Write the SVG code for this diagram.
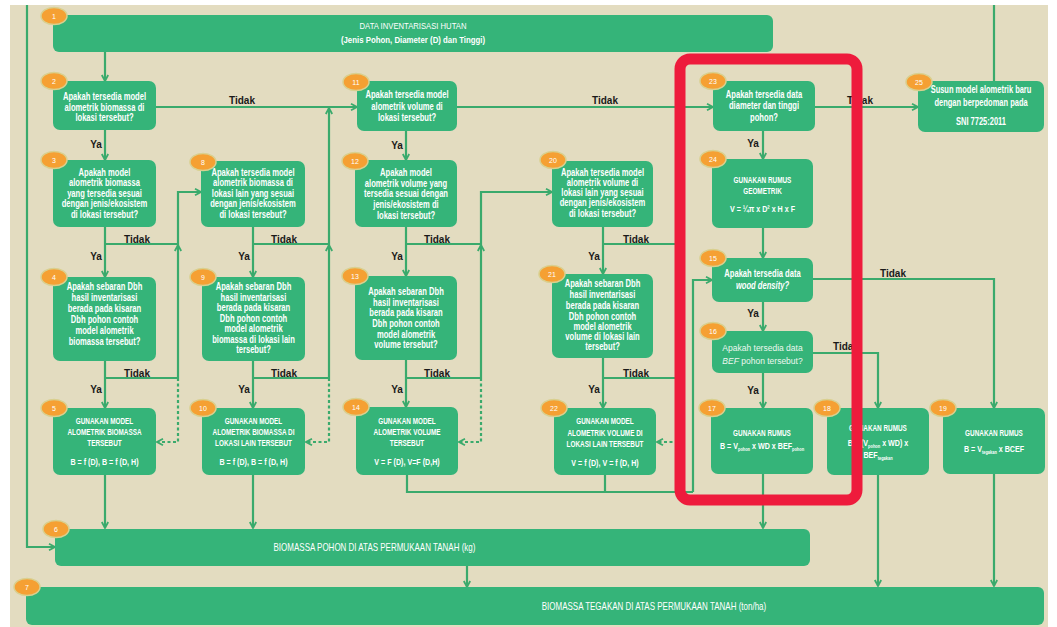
<svg xmlns="http://www.w3.org/2000/svg" width="1057" height="627" viewBox="0 0 1057 627">
<style>
.n{fill:#35b479}
.be{fill:#f5a033;stroke:#d9d08f;stroke-width:1.5}
.bt{font-family:"Liberation Sans",Arial,sans-serif;font-size:7px;fill:#fff;text-anchor:middle}
.t{font-family:"Liberation Sans",Arial,sans-serif;font-weight:700;font-size:10px;fill:#fff;text-anchor:middle}
.cap{font-size:8.4px}
.f{font-size:9.4px}
.r{font-weight:400}
.t2{font-family:"Liberation Sans",Arial,sans-serif;font-weight:400;font-size:8.5px;fill:#eef7f0;text-anchor:middle}
.lbl{font-family:"Liberation Sans",Arial,sans-serif;font-weight:700;font-size:10px;fill:#1a1a1a;text-anchor:middle}
.cn path{fill:none;stroke:#3aaa6c;stroke-width:2.2}
.cn path.a{marker-end:url(#ar)}
.cn path.d{stroke-dasharray:3 2.5}
</style>
<defs>
<marker id="ar" viewBox="0 0 10 10" refX="9" refY="5" markerWidth="8" markerHeight="8" orient="auto" markerUnits="userSpaceOnUse">
<path d="M1.5,1 L9,5 L1.5,9" fill="none" stroke="#3aaa6c" stroke-width="2.2"/>
</marker>
</defs>
<rect x="0" y="0" width="1057" height="627" fill="#ffffff"/>
<rect x="10" y="5" width="1038" height="622" fill="#e3dcc0"/>

<g id="connectors" class="cn">
<path class="a" d="M27,5 V547 H55"/>
<path d="M994,5 V81"/>
<path class="a" d="M105,52 V81"/>
<path class="a" d="M156,107 H357"/>
<path class="a" d="M105,130 V160"/>
<path class="a" d="M105,227 V277"/>
<path d="M105,244 H178"/>
<path class="a" d="M105,361 V408"/>
<path d="M105,378 H178"/>
<path class="a" d="M178,378 V245"/>
<path class="a" d="M178,245 V192 H201"/>
<path class="a d" d="M178,378 V442 H157"/>
<path class="a" d="M105,475 V528"/>
<path class="a" d="M253,227 V277"/>
<path d="M253,244 H329"/>
<path class="a" d="M253,361 V408"/>
<path d="M253,378 H329"/>
<path class="a" d="M329,378 V245"/>
<path class="a" d="M329,245 V108"/>
<path class="a d" d="M329,378 V442 H306"/>
<path class="a" d="M253,475 V528"/>
<path class="a" d="M406,131 V160"/>
<path class="a" d="M406,227 V276"/>
<path d="M406,244 H481"/>
<path class="a" d="M406,360 V407"/>
<path d="M406,378 H481"/>
<path class="a" d="M481,378 V245"/>
<path class="a" d="M481,245 V192 H552"/>
<path class="a d" d="M481,378 V442 H459"/>
<path d="M407,475 V492 H693"/>
<path d="M605,475 V492"/>
<path class="a" d="M693,492 V280 H712"/>
<path class="a" d="M457,107 H713"/>
<path class="a" d="M603,227 V274"/>
<path d="M603,244 H680"/>
<path class="a" d="M603,358 V408"/>
<path d="M603,378 H680"/>
<path d="M680,378 V107"/>
<path class="a d" d="M680,378 V442 H657"/>
<path class="a" d="M815,107 H918"/>
<path class="a" d="M763,131 V159"/>
<path class="a" d="M763,228 V258"/>
<path class="a" d="M763,302 V331"/>
<path class="a" d="M813,279 H994 V408"/>
<path class="a" d="M813,353 H878 V408"/>
<path class="a" d="M763,373 V408"/>
<path class="a" d="M763,474 V528"/>
<path class="a" d="M878,475 V586"/>
<path class="a" d="M994,474 V586"/>
<path class="a" d="M467,566 V587"/>
</g>

<g id="labels">
<text class="lbl" x="242" y="104">Tidak</text>
<text class="lbl" x="605" y="104">Tidak</text>
<text class="lbl" x="860" y="104">Tidak</text>
<text class="lbl" x="96" y="148">Ya</text>
<text class="lbl" x="397" y="149">Ya</text>
<text class="lbl" x="753" y="147">Ya</text>
<text class="lbl" x="137" y="243">Tidak</text>
<text class="lbl" x="284" y="243">Tidak</text>
<text class="lbl" x="437" y="243">Tidak</text>
<text class="lbl" x="636" y="243">Tidak</text>
<text class="lbl" x="96" y="260">Ya</text>
<text class="lbl" x="244" y="260">Ya</text>
<text class="lbl" x="397" y="260">Ya</text>
<text class="lbl" x="594" y="260">Ya</text>
<text class="lbl" x="137" y="377">Tidak</text>
<text class="lbl" x="284" y="377">Tidak</text>
<text class="lbl" x="437" y="377">Tidak</text>
<text class="lbl" x="636" y="377">Tidak</text>
<text class="lbl" x="96" y="393">Ya</text>
<text class="lbl" x="244" y="393">Ya</text>
<text class="lbl" x="397" y="393">Ya</text>
<text class="lbl" x="594" y="393">Ya</text>
<text class="lbl" x="893" y="277">Tidak</text>
<text class="lbl" x="753" y="317">Ya</text>
<text class="lbl" x="846" y="350">Tidak</text>
<text class="lbl" x="753" y="394">Ya</text>
</g>

<g id="n1"><rect class="n" x="53" y="15" width="720" height="37" rx="6"/>
<g transform="translate(413 0) scale(.8 1)"><text class="t"><tspan x="0" y="29.5" class="r" font-size="9.6">DATA INVENTARISASI HUTAN</tspan><tspan x="0" y="43.5" font-size="9.8">(Jenis Pohon, Diameter (D) dan Tinggi)</tspan></text></g>
<ellipse class="be" cx="54" cy="16" rx="13" ry="8.5"/><text class="bt" x="54" y="18.5">1</text></g>

<g id="n2"><rect class="n" x="53" y="81" width="103" height="49" rx="7"/>
<g transform="translate(104.5 0) scale(.76 1)"><text class="t"><tspan x="0" y="100">Apakah tersedia model</tspan><tspan x="0" y="111">alometrik biomassa di</tspan><tspan x="0" y="121.5">lokasi tersebut?</tspan></text></g>
<ellipse class="be" cx="54" cy="81" rx="13" ry="8.5"/><text class="bt" x="54" y="83.5">2</text></g>

<g id="n3"><rect class="n" x="53" y="160" width="103" height="67" rx="7"/>
<g transform="translate(104.5 0) scale(.76 1)"><text class="t"><tspan x="0" y="176">Apakah model</tspan><tspan x="0" y="186.5">alometrik biomassa</tspan><tspan x="0" y="197">yang tersedia sesuai</tspan><tspan x="0" y="207.5">dengan jenis/ekosistem</tspan><tspan x="0" y="218">di lokasi tersebut?</tspan></text></g>
<ellipse class="be" cx="54" cy="160" rx="13" ry="8.5"/><text class="bt" x="54" y="162.5">3</text></g>

<g id="n4"><rect class="n" x="53" y="277" width="103" height="84" rx="7"/>
<g transform="translate(104.5 0) scale(.76 1)"><text class="t"><tspan x="0" y="290">Apakah sebaran Dbh</tspan><tspan x="0" y="301">hasil inventarisasi</tspan><tspan x="0" y="312">berada pada kisaran</tspan><tspan x="0" y="323">Dbh pohon contoh</tspan><tspan x="0" y="334">model alometrik</tspan><tspan x="0" y="345">biomassa tersebut?</tspan></text></g>
<ellipse class="be" cx="54" cy="277" rx="13" ry="8.5"/><text class="bt" x="54" y="279.5">4</text></g>

<g id="n5"><rect class="n" x="53" y="408" width="103" height="67" rx="7"/>
<g transform="translate(104.5 0) scale(.76 1)"><text class="t"><tspan x="0" y="424.5" class="cap">GUNAKAN MODEL</tspan><tspan x="0" y="435.5" class="cap">ALOMETRIK BIOMASSA</tspan><tspan x="0" y="446" class="cap">TERSEBUT</tspan><tspan x="0" y="465.5" class="f">B = f (D), B = f (D, H)</tspan></text></g>
<ellipse class="be" cx="54" cy="408" rx="13" ry="8.5"/><text class="bt" x="54" y="410.5">5</text></g>

<g id="n8"><rect class="n" x="201" y="161" width="104" height="66" rx="7"/>
<g transform="translate(253 0) scale(.76 1)"><text class="t"><tspan x="0" y="176">Apakah tersedia  model</tspan><tspan x="0" y="186.5">alometrik biomassa  di</tspan><tspan x="0" y="197">lokasi lain yang  sesuai</tspan><tspan x="0" y="207.5">dengan jenis/ekosistem</tspan><tspan x="0" y="218">di lokasi tersebut?</tspan></text></g>
<ellipse class="be" cx="203" cy="162" rx="13" ry="8.5"/><text class="bt" x="203" y="164.5">8</text></g>

<g id="n9"><rect class="n" x="202" y="277" width="103" height="84" rx="7"/>
<g transform="translate(253.5 0) scale(.76 1)"><text class="t"><tspan x="0" y="290">Apakah sebaran Dbh</tspan><tspan x="0" y="301">hasil inventarisasi</tspan><tspan x="0" y="311">berada pada kisaran</tspan><tspan x="0" y="322">Dbh pohon contoh</tspan><tspan x="0" y="332">model alometrik</tspan><tspan x="0" y="343">biomassa di lokasi lain</tspan><tspan x="0" y="353.5">tersebut?</tspan></text></g>
<ellipse class="be" cx="203" cy="277" rx="13" ry="8.5"/><text class="bt" x="203" y="279.5">9</text></g>

<g id="n10"><rect class="n" x="202" y="408" width="103" height="67" rx="7"/>
<g transform="translate(253.5 0) scale(.76 1)"><text class="t"><tspan x="0" y="424.5" class="cap">GUNAKAN MODEL</tspan><tspan x="0" y="435.5" class="cap">ALOMETRIK BIOMASSA DI</tspan><tspan x="0" y="446" class="cap">LOKASI LAIN TERSEBUT</tspan><tspan x="0" y="465.5" class="f">B = f (D), B = f (D, H)</tspan></text></g>
<ellipse class="be" cx="203" cy="408" rx="13" ry="8.5"/><text class="bt" x="203" y="410.5">10</text></g>

<g id="n11"><rect class="n" x="357" y="81" width="100" height="50" rx="7"/>
<g transform="translate(407 0) scale(.76 1)"><text class="t"><tspan x="0" y="98">Apakah tersedia model</tspan><tspan x="0" y="110">alometrik volume di</tspan><tspan x="0" y="121">lokasi tersebut?</tspan></text></g>
<ellipse class="be" cx="356" cy="82" rx="13" ry="8.5"/><text class="bt" x="356" y="84.5">11</text></g>

<g id="n12"><rect class="n" x="355" y="160" width="102" height="67" rx="7"/>
<g transform="translate(406 0) scale(.76 1)"><text class="t"><tspan x="0" y="176">Apakah model</tspan><tspan x="0" y="187">alometrik volume yang</tspan><tspan x="0" y="197">tersedia sesuai dengan</tspan><tspan x="0" y="208">jenis/ekosistem di</tspan><tspan x="0" y="219">lokasi tersebut?</tspan></text></g>
<ellipse class="be" cx="355" cy="161" rx="13" ry="8.5"/><text class="bt" x="355" y="163.5">12</text></g>

<g id="n13"><rect class="n" x="355" y="276" width="102" height="84" rx="7"/>
<g transform="translate(406 0) scale(.76 1)"><text class="t"><tspan x="0" y="295">Apakah sebaran Dbh</tspan><tspan x="0" y="306">hasil inventarisasi</tspan><tspan x="0" y="316">berada pada kisaran</tspan><tspan x="0" y="327">Dbh pohon contoh</tspan><tspan x="0" y="338">model alometrik</tspan><tspan x="0" y="348">volume tersebut?</tspan></text></g>
<ellipse class="be" cx="355" cy="276" rx="13" ry="8.5"/><text class="bt" x="355" y="278.5">13</text></g>

<g id="n14"><rect class="n" x="356" y="407" width="102" height="68" rx="7"/>
<g transform="translate(407 0) scale(.76 1)"><text class="t"><tspan x="0" y="424" class="cap">GUNAKAN MODEL</tspan><tspan x="0" y="435" class="cap">ALOMETRIK VOLUME</tspan><tspan x="0" y="446" class="cap">TERSEBUT</tspan><tspan x="0" y="465" class="f">V = F (D), V=F (D,H)</tspan></text></g>
<ellipse class="be" cx="356" cy="407" rx="13" ry="8.5"/><text class="bt" x="356" y="409.5">14</text></g>

<g id="n20"><rect class="n" x="552" y="161" width="101" height="66" rx="7"/>
<g transform="translate(602.5 0) scale(.76 1)"><text class="t"><tspan x="0" y="176">Apakah tersedia model</tspan><tspan x="0" y="186">alometrik volume di</tspan><tspan x="0" y="196">lokasi lain yang sesuai</tspan><tspan x="0" y="206.5">dengan jenis/ekosistem</tspan><tspan x="0" y="217">di lokasi tersebut?</tspan></text></g>
<ellipse class="be" cx="553" cy="160" rx="13" ry="8.5"/><text class="bt" x="553" y="162.5">20</text></g>

<g id="n21"><rect class="n" x="552" y="274" width="101" height="84" rx="7"/>
<g transform="translate(602.5 0) scale(.76 1)"><text class="t"><tspan x="0" y="287">Apakah sebaran Dbh</tspan><tspan x="0" y="298">hasil inventarisasi</tspan><tspan x="0" y="309">berada pada kisaran</tspan><tspan x="0" y="320">Dbh pohon contoh</tspan><tspan x="0" y="330">model alometrik</tspan><tspan x="0" y="340">volume di lokasi lain</tspan><tspan x="0" y="350">tersebut?</tspan></text></g>
<ellipse class="be" cx="552" cy="274" rx="13" ry="8.5"/><text class="bt" x="552" y="276.5">21</text></g>

<g id="n22"><rect class="n" x="554" y="408" width="102" height="67" rx="7"/>
<g transform="translate(605 0) scale(.76 1)"><text class="t"><tspan x="0" y="424.5" class="cap">GUNAKAN MODEL</tspan><tspan x="0" y="436" class="cap">ALOMETRIK VOLUME DI</tspan><tspan x="0" y="447" class="cap">LOKASI LAIN TERSEBUT</tspan><tspan x="0" y="466" class="f">V = f (D), V = f (D, H)</tspan></text></g>
<ellipse class="be" cx="554" cy="408" rx="13" ry="8.5"/><text class="bt" x="554" y="410.5">22</text></g>

<g id="n23"><rect class="n" x="713" y="81" width="102" height="50" rx="7"/>
<g transform="translate(764 0) scale(.76 1)"><text class="t"><tspan x="0" y="98">Apakah tersedia data</tspan><tspan x="0" y="109">diameter dan tinggi</tspan><tspan x="0" y="121">pohon?</tspan></text></g>
<ellipse class="be" cx="713" cy="81" rx="13" ry="8.5"/><text class="bt" x="713" y="83.5">23</text></g>

<g id="n24"><rect class="n" x="712" y="159" width="101" height="69" rx="7"/>
<g transform="translate(762.5 0) scale(.76 1)"><text class="t"><tspan x="0" y="183" class="cap">GUNAKAN RUMUS</tspan><tspan x="0" y="194" class="cap">GEOMETRIK</tspan><tspan x="0" y="212" class="f">V = ¼π x D² x H x F</tspan></text></g>
<ellipse class="be" cx="713" cy="159" rx="13" ry="8.5"/><text class="bt" x="713" y="161.5">24</text></g>

<g id="n15"><rect class="n" x="712" y="258" width="101" height="44" rx="7"/>
<g transform="translate(762.5 0) scale(.76 1)"><text class="t"><tspan x="0" y="277.5">Apakah tersedia data</tspan><tspan x="0" y="289" font-style="italic">wood density?</tspan></text></g>
<ellipse class="be" cx="713" cy="258" rx="13" ry="8.5"/><text class="bt" x="713" y="260.5">15</text></g>

<g id="n16"><rect class="n" x="712" y="331" width="101" height="42" rx="7"/>
<text class="t2"><tspan x="762.5" y="350.5">Apakah tersedia data</tspan><tspan x="762.5" y="363.5"><tspan font-style="italic">BEF</tspan> pohon tersebut?</tspan></text>
<ellipse class="be" cx="713" cy="331" rx="13" ry="8.5"/><text class="bt" x="713" y="333.5">16</text></g>

<g id="n17"><rect class="n" x="711" y="408" width="102" height="66" rx="7"/>
<g transform="translate(762 0) scale(.76 1)"><text class="t"><tspan x="0" y="436" class="cap">GUNAKAN RUMUS</tspan><tspan x="0" y="449" class="f">B = V<tspan font-size="5.2" dy="2">pohon</tspan><tspan dy="-2"> x WD x BEF</tspan><tspan font-size="5.2" dy="2">pohon</tspan></tspan></text></g>
<ellipse class="be" cx="712" cy="408" rx="13" ry="8.5"/><text class="bt" x="712" y="410.5">17</text></g>

<g id="n18"><rect class="n" x="827" y="408" width="102" height="67" rx="7"/>
<g transform="translate(878 0) scale(.76 1)"><text class="t"><tspan x="0" y="431" class="cap">GUNAKAN RUMUS</tspan><tspan x="0" y="446" class="f">B = (V<tspan font-size="5.2" dy="2">pohon</tspan><tspan dy="-2"> x WD) x</tspan></tspan><tspan x="0" y="458" class="f">BEF<tspan font-size="5.2" dy="2">tegakan</tspan></tspan></text></g>
<ellipse class="be" cx="827" cy="408" rx="13" ry="8.5"/><text class="bt" x="827" y="410.5">18</text></g>

<g id="n19"><rect class="n" x="943" y="408" width="102" height="66" rx="7"/>
<g transform="translate(994 0) scale(.76 1)"><text class="t"><tspan x="0" y="436" class="cap">GUNAKAN RUMUS</tspan><tspan x="0" y="452" class="f">B = V<tspan font-size="5.2" dy="2">tegakan</tspan><tspan dy="-2"> x BCEF</tspan></tspan></text></g>
<ellipse class="be" cx="943" cy="408" rx="13" ry="8.5"/><text class="bt" x="943" y="410.5">19</text></g>

<g id="n25"><rect class="n" x="918" y="81" width="126" height="51" rx="7"/>
<g transform="translate(981 0) scale(.75 1)"><text class="t"><tspan x="0" y="93.5">Susun model alometrik baru</tspan><tspan x="0" y="106">dengan berpedoman pada</tspan><tspan x="0" y="125.5">SNI 7725:2011</tspan></text></g>
<ellipse class="be" cx="919" cy="82" rx="13" ry="8.5"/><text class="bt" x="919" y="84.5">25</text></g>

<g id="n6"><rect class="n" x="55" y="529" width="755" height="37" rx="6"/>
<g transform="translate(374.5 0) scale(.8 1)"><text class="t r" font-size="9" x="0" y="551">BIOMASSA POHON DI ATAS PERMUKAAN TANAH (kg)</text></g>
<ellipse class="be" cx="56" cy="529" rx="13" ry="8.5"/><text class="bt" x="56" y="531.5">6</text></g>

<g id="n7"><rect class="n" x="26" y="587" width="1018" height="38" rx="6"/>
<g transform="translate(654 0) scale(.8 1)"><text class="t r" font-size="9" x="0" y="610">BIOMASSA TEGAKAN DI ATAS PERMUKAAN TANAH (ton/ha)</text></g>
<ellipse class="be" cx="27" cy="587" rx="13" ry="8.5"/><text class="bt" x="27" y="589.5">7</text></g>

<rect id="highlight" x="680" y="59" width="177" height="441" rx="10" fill="none" stroke="#ee1b3c" stroke-width="11"/>
</svg>
